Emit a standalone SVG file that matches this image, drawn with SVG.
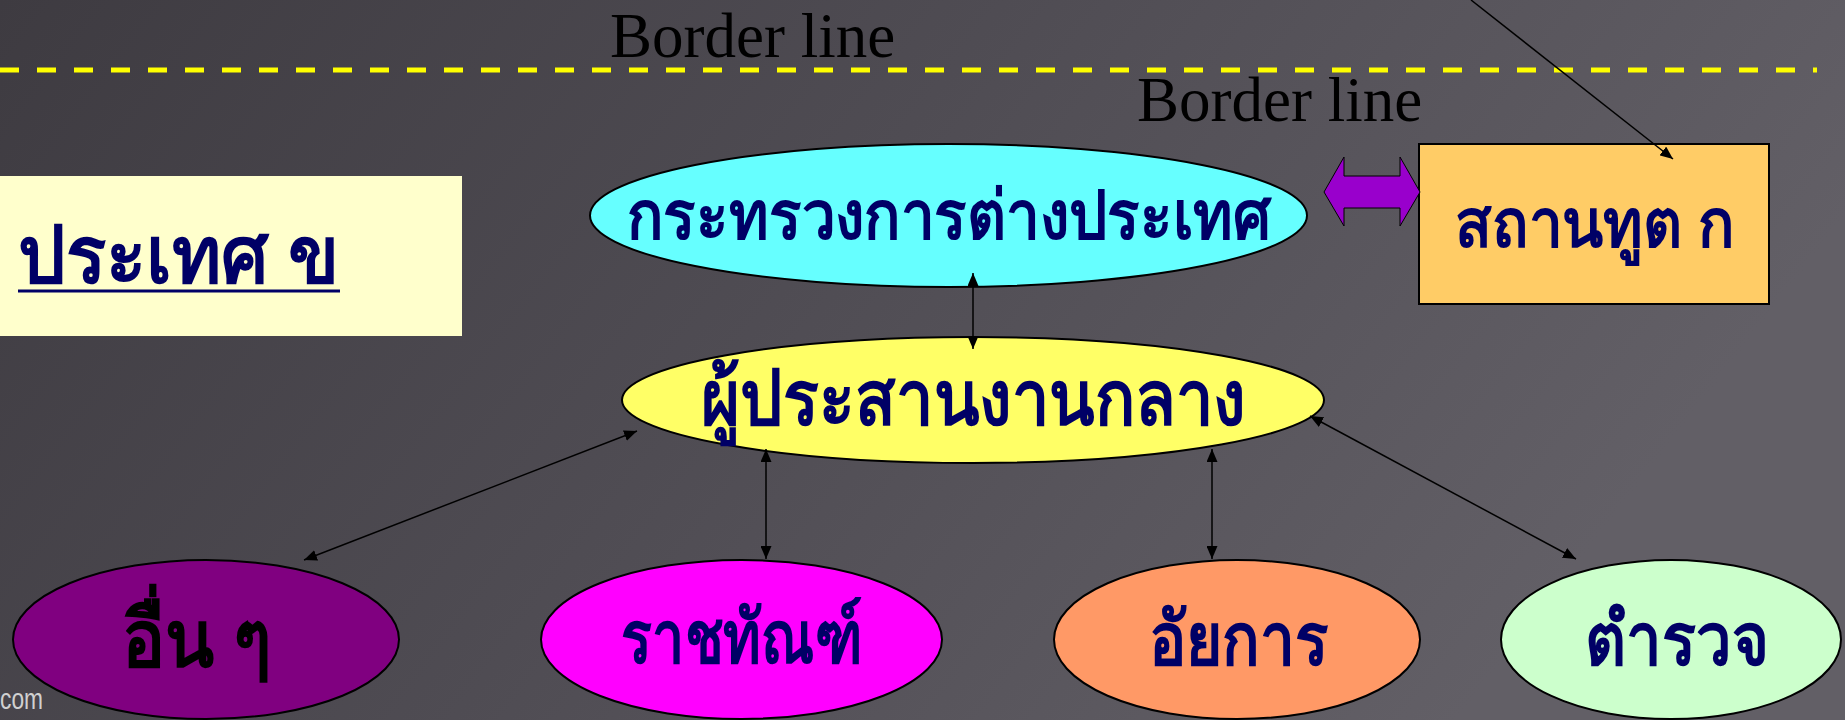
<svg xmlns="http://www.w3.org/2000/svg" width="1845" height="720" viewBox="0 0 1845 720">
<defs>
<linearGradient id="bg" x1="0" y1="0" x2="1" y2="0.3">
<stop offset="0" stop-color="#3e3b41"/>
<stop offset="0.5" stop-color="#4f4c53"/>
<stop offset="1" stop-color="#625f66"/>
</linearGradient>
<marker id="ah" viewBox="0 0 13 11" refX="13" refY="5.5" markerWidth="13" markerHeight="11" markerUnits="userSpaceOnUse" orient="auto-start-reverse">
<path d="M0,0 L13,5.5 L0,11 z" fill="#000"/>
</marker>
<style>
.th{font-family:"Noto Sans","DejaVu Sans",sans-serif;font-weight:bold;fill:#000066}
.en{font-family:"Liberation Serif",serif;fill:#000;font-size:63px}
.node{stroke:#000;stroke-width:2}
.con{stroke:#000;stroke-width:1.5;fill:none}
</style>
</defs>
<rect width="1845" height="720" fill="url(#bg)"/>
<text x="0" y="709" font-family="Liberation Sans, sans-serif" font-size="29" fill="#d0d0d0" textLength="43" lengthAdjust="spacingAndGlyphs">com</text>
<line x1="0" y1="70" x2="1817" y2="70" stroke="#ffff00" stroke-width="5" stroke-dasharray="19 18"/>
<text class="en" x="610" y="57">Border line</text>
<text class="en" x="1137" y="121">Border line</text>

<g id="country-b">
<rect x="0" y="176" width="462" height="160" fill="#ffffcc"/>
<text class="th" x="18" y="283" font-size="80" textLength="322" lengthAdjust="spacingAndGlyphs">ประเทศ ข</text>
<rect x="18" y="289.5" width="322" height="3" fill="#000066"/>
</g>
<g id="ministry">
<ellipse class="node" cx="948.5" cy="215.5" rx="358.5" ry="71.5" fill="#66ffff"/>
<text class="th" x="627" y="239" font-size="68" textLength="644" lengthAdjust="spacingAndGlyphs">กระทรวงการต่างประเทศ</text>
</g>
<g id="embassy">
<rect class="node" x="1419" y="144" width="350" height="160" fill="#ffcc66" stroke-width="3"/>
<text class="th" x="1455" y="247" font-size="68" textLength="279" lengthAdjust="spacingAndGlyphs">สถานทูต ก</text>
</g>
<g id="coordinator">
<ellipse class="node" cx="973" cy="400" rx="351" ry="63" fill="#ffff66"/>
<text class="th" x="701" y="425" font-size="78" textLength="545" lengthAdjust="spacingAndGlyphs">ผู้ประสานงานกลาง</text>
</g>
<g id="others">
<ellipse class="node" cx="206" cy="639.5" rx="193" ry="79.5" fill="#800080" stroke-width="1.5"/>
<text class="th" x="122" y="667" font-size="80" style="fill:#000" textLength="150" lengthAdjust="spacingAndGlyphs">อื่น ๆ</text>
</g>
<g id="corrections">
<ellipse class="node" cx="741.5" cy="639.5" rx="200.5" ry="79.5" fill="#ff00ff" stroke-width="1.5"/>
<text class="th" x="621" y="663" font-size="74" textLength="241" lengthAdjust="spacingAndGlyphs">ราชทัณฑ์</text>
</g>
<g id="prosecutor">
<ellipse class="node" cx="1237" cy="639.5" rx="183" ry="79.5" fill="#ff9966" stroke-width="1.5"/>
<text class="th" x="1149" y="665" font-size="74" textLength="180" lengthAdjust="spacingAndGlyphs">อัยการ</text>
</g>
<g id="police">
<ellipse class="node" cx="1671" cy="639.5" rx="170" ry="79.5" fill="#ccffcc" stroke-width="1.5"/>
<text class="th" x="1585" y="665" font-size="74" textLength="184" lengthAdjust="spacingAndGlyphs">ตำรวจ</text>
</g>
<g id="connectors">
<polygon points="1324,192 1344,157 1344,176 1400,176 1400,157 1420,192 1400,226 1400,208 1344,208 1344,226" fill="#9900cc" stroke="#000" stroke-width="1"/>
<line class="con" x1="1471" y1="0" x2="1673" y2="159" marker-end="url(#ah)"/>
<line class="con" x1="973" y1="273" x2="973" y2="349" marker-start="url(#ah)" marker-end="url(#ah)"/>
<line class="con" x1="637" y1="431" x2="304" y2="560" marker-start="url(#ah)" marker-end="url(#ah)"/>
<line class="con" x1="766" y1="449" x2="766" y2="559" marker-start="url(#ah)" marker-end="url(#ah)"/>
<line class="con" x1="1212" y1="449" x2="1212" y2="559" marker-start="url(#ah)" marker-end="url(#ah)"/>
<line class="con" x1="1310" y1="416" x2="1576" y2="559" marker-start="url(#ah)" marker-end="url(#ah)"/>
</g>
</svg>
